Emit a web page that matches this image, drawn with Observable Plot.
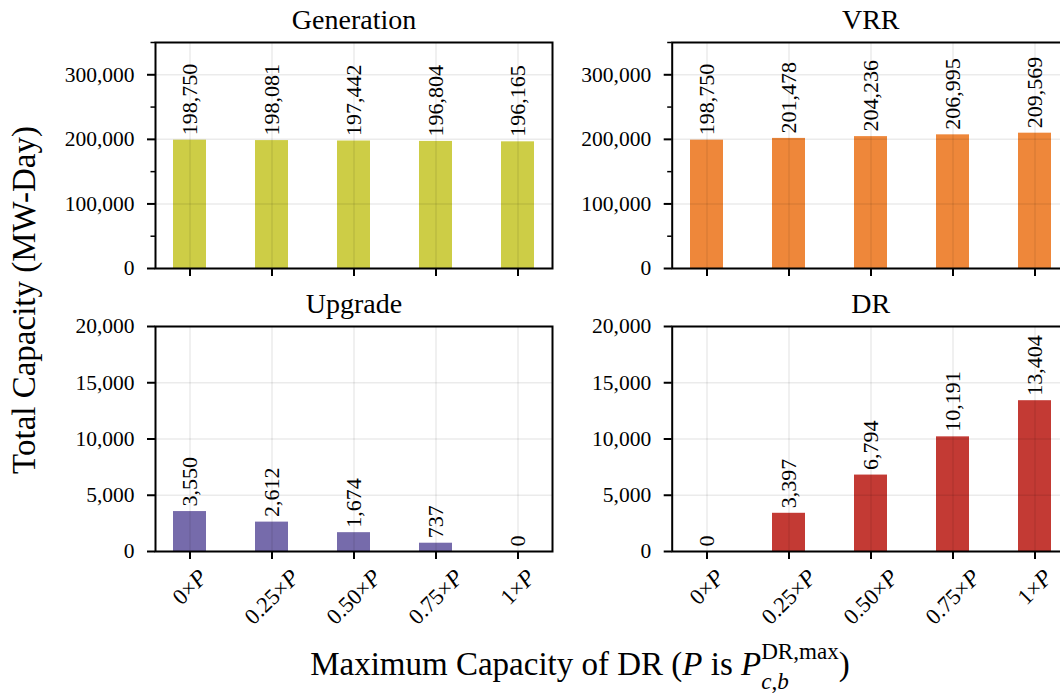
<!DOCTYPE html>
<html>
<head>
<meta charset="utf-8">
<script src="https://cdn.jsdelivr.net/npm/d3@7"></script>
<script src="https://cdn.jsdelivr.net/npm/@observablehq/plot@0.6"></script>
<style>
  html, body { margin: 0; padding: 0; background: #fff; overflow: hidden; }
  #fig { position: relative; width: 1060px; height: 694px; overflow: hidden; font-family: Liberation Serif, Times New Roman, serif; color: #000; background: #fff; }
  .panel { position: absolute; }
  .panel text { font-family: Liberation Serif, Times New Roman, serif; }
  #ylabel { position: absolute; left: 24px; top: 300px; transform: translate(-50%, -50%) rotate(-90deg); font-size: 33px; line-height: 1; white-space: nowrap; }
  #xlabel { position: absolute; left: 580px; top: 648px; transform: translateX(-50%); font-size: 33px; line-height: 1; white-space: nowrap; }
  #xlabel .ss { display: inline-flex; flex-direction: column; font-size: 0.7em; line-height: 1.3; position: relative; top: -16px; vertical-align: baseline; }
</style>
</head>
<body>
<div id="fig">
  <div id="ylabel">Total Capacity (MW-Day)</div>
  <div id="xlabel">Maximum Capacity of DR (<i>P</i> is <i>P</i><span class="ss"><span>DR,max</span><span><i>c</i>,<i>b</i></span></span>)</div>
</div>
<script>
// ---- data ----
const categories = ["0", "0.25", "0.50", "0.75", "1"];
const generation = [198750, 198081, 197442, 196804, 196165];
const vrr = [198750, 201478, 204236, 206995, 209569];
const upgrade = [3550, 2612, 1674, 737, 0];
const dr = [0, 3397, 6794, 10191, 13404];
const topTicks = [0, 100000, 200000, 300000];
const topMinor = [50000, 150000, 250000, 350000];
const bottomTicks = [0, 5000, 10000, 15000, 20000];
const titles = ["Generation", "VRR", "Upgrade", "DR"];
const colors = ["#cdcd46", "#ee873a", "#766bab", "#c33a34"];

const fmt = d3.format(",");
const FS = 21.5;
const FONT = "Liberation Serif, Times New Roman, serif";

function panel({title, values, color, domain, ticks, minor, left, top, width, height, ml, mr, mt, mb, xLabels}) {
  const data = categories.map((c, i) => ({cat: c, value: values[i]}));
  const marks = [
    Plot.barY(data, {x: "cat", y: "value", fill: color}),
    Plot.gridY(ticks, {stroke: "#000", strokeOpacity: 0.08, strokeWidth: 1.5}),
    Plot.gridX(categories, {stroke: "#000", strokeOpacity: 0.08, strokeWidth: 1.5}),
    Plot.text(data, {x: "cat", y: "value", text: d => fmt(d.value), rotate: -90, textAnchor: "start", lineAnchor: "middle", dy: -5, fontSize: 22, fill: "#000"}),
    Plot.frame({stroke: "#000", strokeWidth: 2}),
    Plot.axisY(ticks, {tickSize: 8, tickPadding: 13, tickFormat: d => fmt(d), fontSize: FS, strokeWidth: 2, label: null}),
    Plot.axisX(categories, {tickSize: 8, tickFormat: () => "", strokeWidth: 2, label: null}),
    Plot.text([title], {text: d => d, frameAnchor: "top", lineAnchor: "middle", dy: -22.5, fontSize: 28, fill: "#000"})
  ];
  if (minor) marks.push(Plot.axisY(minor, {tickSize: 4.5, tickFormat: () => "", strokeWidth: 1.5, label: null}));
  if (xLabels) marks.push(Plot.text(categories, {x: d => d, text: d => d, frameAnchor: "bottom", lineAnchor: "middle", rotate: -45, textAnchor: "middle", fontSize: 22.5, fill: "#000"}));
  const svg = Plot.plot({
    width, height,
    marginLeft: ml, marginRight: mr, marginTop: mt, marginBottom: mb,
    style: {fontFamily: FONT, fontSize: FS + "px", background: "transparent", color: "#000", overflow: "visible"},
    x: {type: "band", domain: categories, paddingInner: 0.6, paddingOuter: 0.22, axis: null},
    y: {domain, axis: null},
    marks
  });
  svg.classList.add("panel");
  svg.style.left = left + "px";
  svg.style.top = top + "px";
  svg.style.position = "absolute";
  svg.style.fontFamily = FONT;
  document.getElementById("fig").appendChild(svg);
  if (xLabels) fixXLabels(svg);
  return svg;
}

// rotated x tick labels: "c×P" with italic P, bbox centred on the tick, top aligned
function fixXLabels(svg) {
  svg.querySelectorAll("text").forEach(function (el) {
    const tr = el.getAttribute("transform") || "";
    if (!/rotate\(-45\)/.test(tr)) return;
    const t = d3.select(el);
    const label = el.textContent;
    t.text(null);
    t.append("tspan").text(label + "×");
    t.append("tspan").attr("font-style", "italic").attr("font-size", "1.05em").text("P");
    const L = el.getComputedTextLength();
    const m = /translate\(([^,\s]+)[,\s]+([^)]+)\)/.exec(tr);
    const x = +m[1], y = +m[2];
    const h = 0.9 * 22.5;
    const ny = y + 15 + (L + h) / (2 * Math.SQRT2);
    t.attr("transform", `translate(${x},${ny}) rotate(-45)`);
  });
}

panel({title: titles[0], values: generation, color: colors[0], domain: [0, 350000], ticks: topTicks, minor: topMinor,
  left: 0, top: 0, width: 560, height: 290, ml: 155, mr: 8, mt: 42, mb: 22, xLabels: false});
panel({title: titles[1], values: vrr, color: colors[1], domain: [0, 350000], ticks: topTicks, minor: topMinor,
  left: 560, top: 0, width: 520, height: 290, ml: 111.7, mr: 11.3, mt: 42, mb: 22, xLabels: false});
panel({title: titles[2], values: upgrade, color: colors[2], domain: [0, 20000], ticks: bottomTicks, minor: null,
  left: 0, top: 290, width: 560, height: 404, ml: 155, mr: 8, mt: 36, mb: 143, xLabels: true});
panel({title: titles[3], values: dr, color: colors[3], domain: [0, 20000], ticks: bottomTicks, minor: null,
  left: 560, top: 290, width: 520, height: 404, ml: 111.7, mr: 11.3, mt: 36, mb: 143, xLabels: true});
</script>
</body>
</html>
